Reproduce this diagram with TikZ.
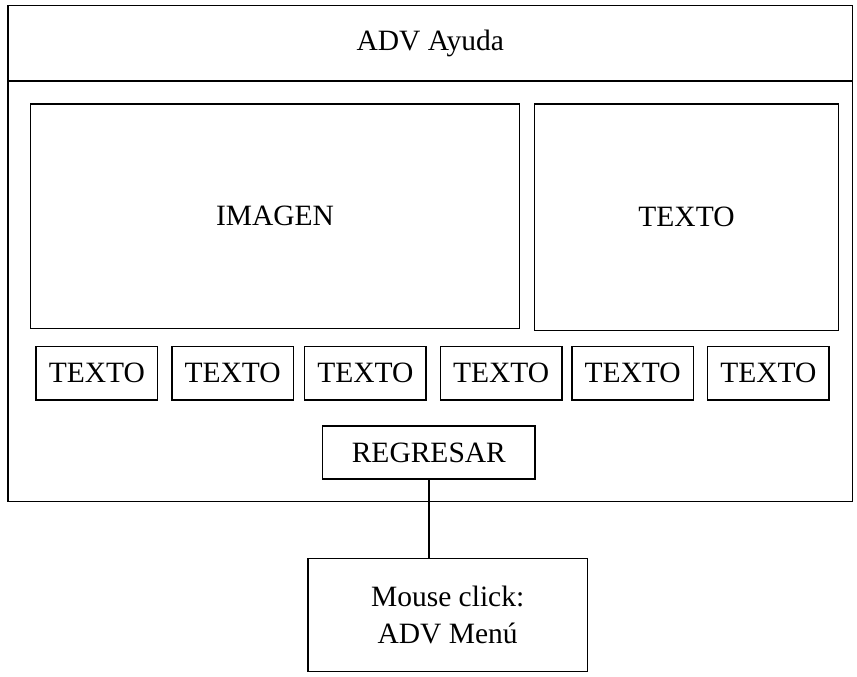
\documentclass[tikz,border=0pt]{standalone}
\usepackage{fontspec}
\setmainfont{Liberation Serif}
\usetikzlibrary{
  positioning,
  calc
}
\definecolor{textprimary}{HTML}{000000}
\definecolor{border}{HTML}{000000}
\tikzset{
  base/.style={
    text=textprimary,
    font=\fontsize{29.5}{37.5}\selectfont,
    align=center,
    inner sep=0pt,
  },
  frame/.style={
    base,
    draw=border,
    line width=1.3pt,
    minimum width=#1,
  },
  panel/.style={
    frame=#1,
    minimum height=225pt,
  },
  tab/.style={
    frame=121.5pt,
    minimum height=53.3pt,
  },
  link/.style={
    draw=border,
    line width=1.3pt,
  },
}

\begin{document}
\begin{tikzpicture}[x=1pt, y=-1pt]
\useasboundingbox (0,0) rectangle (857,677);

% === WINDOW: ADV Ayuda ===

\node[frame=844.5pt, minimum height=496.2pt]
  (window) at (430.25,253.6) {};

\node[frame=844.5pt, minimum height=75.5pt]
  (header) at (430.25,43.25) {ADV Ayuda};

% === ROW 1: Imagen + Texto ===

\node[panel=488.6pt, minimum height=224.7pt]
  (imagen) at (275,216.35) {IMAGEN};

\node[panel=304.4pt, minimum height=226.3pt]
  (texto) at (686.5,217.15) {TEXTO};

% === ROW 2: Texto tabs ===

\node[tab] (tab1) at (96.85,373.35) {TEXTO};
\node[tab] (tab2) at (232.65,373.35) {TEXTO};
\node[tab] (tab3) at (365.35,373.35) {TEXTO};
\node[tab] (tab4) at (501.2,373.35) {TEXTO};
\node[tab] (tab5) at (632.65,373.35) {TEXTO};
\node[tab] (tab6) at (768.35,373.35) {TEXTO};

% === ROW 3: Regresar button ===

\node[frame=212.3pt, minimum height=53pt]
  (regresar) at (428.85,452.5) {REGRESAR};

% === Action ===

\node[frame=279.3pt, minimum height=113.4pt]
  (click) at (447.65,615) {Mouse click:\\ADV Menú};

\draw[link] (regresar.south) -- (regresar.south |- click.north);

\end{tikzpicture}
\end{document}
